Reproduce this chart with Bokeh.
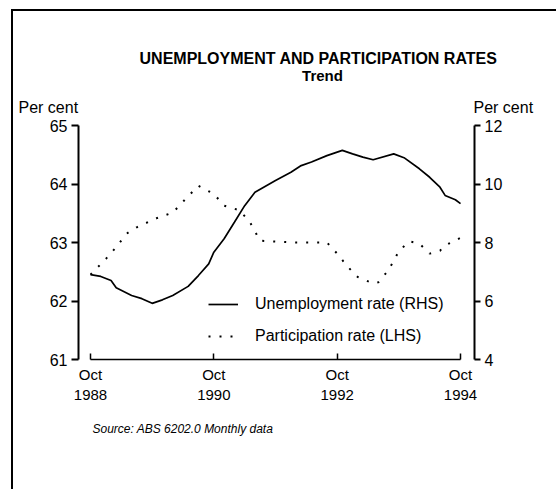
from bokeh.plotting import figure
from bokeh.models import (LinearAxis, Range1d, FixedTicker, Label, Legend, LegendItem)
from bokeh.layouts import column
from bokeh.embed import file_html
from bokeh.resources import INLINE

# months since Oct 1988
unemp_month = [0, 2, 4, 5, 8, 10, 12, 14, 16, 19, 21, 23, 24, 26, 28, 30, 32, 36, 39, 41, 43, 46,
               49, 51, 53, 55, 59, 61, 64, 66, 68, 69, 71, 72]
unemp_rate = [6.90, 6.84, 6.70, 6.45, 6.19, 6.08, 5.92, 6.04, 6.19, 6.50, 6.87, 7.27, 7.67, 8.13,
              8.69, 9.26, 9.72, 10.12, 10.40, 10.63, 10.75, 10.97, 11.15, 11.03, 10.92, 10.83,
              11.03, 10.90, 10.52, 10.23, 9.89, 9.61, 9.46, 9.33]

part_month = [0, 3, 5, 7, 9, 13, 16, 19, 21, 24, 26, 29, 31, 33, 40, 46, 48, 50, 52, 55, 56, 58,
              60, 62, 64, 66, 68, 69, 72]
part_rate = [62.45, 62.72, 62.92, 63.15, 63.26, 63.42, 63.51, 63.79, 63.97, 63.83, 63.63, 63.55,
             63.35, 63.03, 63.00, 63.00, 62.81, 62.59, 62.41, 62.30, 62.32, 62.53, 62.85, 63.02,
             62.98, 62.81, 62.86, 62.95, 63.08]

x_ticks = [0, 24, 48, 72]
x_tick_labels = ["Oct\n1988", "Oct\n1990", "Oct\n1992", "Oct\n1994"]
left_ticks = [61, 62, 63, 64, 65]
right_ticks = [4, 6, 8, 10, 12]

title_text = "UNEMPLOYMENT AND PARTICIPATION RATES"
subtitle_text = "Trend"
unit_text = "Per cent"
source_text = "Source: ABS 6202.0 Monthly data"

FONT = "Liberation Sans"
W = 543


def blank(height):
    f = figure(width=W, height=height, output_backend="svg", toolbar_location=None,
               x_range=Range1d(0, W), y_range=Range1d(0, height), frame_align=False,
               min_border_left=0, min_border_right=0, min_border_top=0, min_border_bottom=0,
               x_axis_type=None, y_axis_type=None)
    f.grid.visible = False
    f.outline_line_color = None
    f.background_fill_color = "white"
    f.border_fill_color = "white"
    return f


def lbl(f, x, y, text, size, style="normal", align="left"):
    f.add_layout(Label(x=x, y=y, text=text, text_font=FONT, text_font_size=size,
                       text_font_style=style, text_align=align, text_baseline="middle",
                       text_color="black"))


# header with titles
header = blank(104)
lbl(header, 305, 57, title_text, "16px", "bold", "center")
lbl(header, 309, 40, subtitle_text, "15px", "bold", "center")
lbl(header, 5, 8, unit_text, "16px")
lbl(header, 460, 8, unit_text, "16px")

# main chart
p = figure(width=W, height=300, output_backend="svg", toolbar_location=None,
           x_range=Range1d(-2.335, 74.72), y_range=Range1d(61, 65), frame_align=False,
           min_border_left=65, min_border_right=82, min_border_top=10, min_border_bottom=56)
p.outline_line_color = None
p.grid.visible = False
p.background_fill_color = "white"
p.border_fill_color = "white"
p.extra_y_ranges = {"rhs": Range1d(4, 12)}
p.xaxis.visible = False
p.yaxis.visible = False


def style_axis(ax, tick_in=0, tick_out=7, lw=2):
    ax.axis_line_width = lw
    ax.axis_line_color = "black"
    ax.major_tick_line_width = lw
    ax.major_tick_line_color = "black"
    ax.major_tick_in = tick_in
    ax.major_tick_out = tick_out
    ax.minor_tick_line_color = None
    ax.major_label_text_font = FONT
    ax.major_label_text_font_size = "16px"
    ax.major_label_text_color = "black"


xa = LinearAxis(ticker=FixedTicker(ticks=x_ticks),
                major_label_overrides={t: l for t, l in zip(x_ticks, x_tick_labels)})
style_axis(xa, tick_in=6, tick_out=0, lw=1.5)
xa.major_label_text_font_size = "15px"
xa.bounds = (0, 72)
xa.major_label_standoff = 6
p.add_layout(xa, "below")

la = LinearAxis(ticker=FixedTicker(ticks=left_ticks))
style_axis(la)
la.major_label_standoff = 4
p.add_layout(la, "left")

ra = LinearAxis(y_range_name="rhs", ticker=FixedTicker(ticks=right_ticks))
style_axis(ra, tick_out=6)
ra.major_label_standoff = 4
p.add_layout(ra, "right")

r_un = p.line(unemp_month, unemp_rate, y_range_name="rhs", line_color="black", line_width=1.7)
r_pa = p.line(part_month, part_rate, line_color="black", line_width=2, line_dash="2 9")

legend = Legend(items=[LegendItem(label="Unemployment rate (RHS)", renderers=[r_un]),
                       LegendItem(label="Participation rate (LHS)", renderers=[r_pa])],
                location=(130, 13), orientation="vertical")
legend.label_text_font = FONT
legend.label_text_font_size = "16px"
legend.label_text_color = "black"
legend.glyph_width = 30
legend.glyph_height = 20
legend.label_height = 20
legend.label_standoff = 17
legend.spacing = 12
legend.padding = 0
legend.margin = 0
legend.border_line_color = None
legend.background_fill_alpha = 0
p.add_layout(legend, "center")

# footer with source
footer = blank(74)
lbl(footer, 79, 61, source_text, "12px", "italic")

page = column(header, p, footer, spacing=0)
page.styles = {"margin-left": "11px", "margin-top": "9px",
               "border-left": "2px solid black", "border-top": "2px solid black"}

open("out.html", "w").write(file_html(page, INLINE))
